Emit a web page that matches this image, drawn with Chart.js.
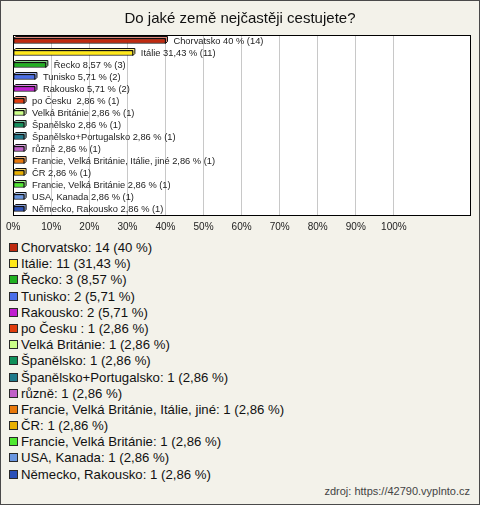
<!DOCTYPE html>
<html>
<head>
<meta charset="utf-8">
<script src="https://cdn.jsdelivr.net/npm/chart.js@4/dist/chart.umd.min.js"></script>
<style>
  body { margin: 0; }
  #wrap {
    position: relative;
    width: 480px;
    height: 505px;
    background: #f3f2ea;
    box-shadow: inset 0 0 0 1px #4a4a4a;
    font-family: "Liberation Sans", Arial, sans-serif;
    overflow: hidden;
  }
  #chart { position: absolute; left: 0; top: 0; }
  #legend { position: absolute; left: 9px; top: 240px; }
  .item { height: 16.2px; line-height: 16.2px; font-size: 13.2px; color: #111; white-space: nowrap; }
  .box {
    display: inline-block;
    width: 7px; height: 7px;
    border: 1px solid #2a2a2a;
    margin-right: 3px;
  }
  #source { position: absolute; right: 10px; top: 485px; font-size: 11px; color: #444; }
</style>
</head>
<body>
<div id="wrap">
  <canvas id="chart" width="480" height="240"></canvas>
  <div id="legend"></div>
  <div id="source">zdroj: https://42790.vyplnto.cz</div>
</div>
<script>
const TITLE = 'Do jaké země nejčastěji cestujete?';
const categories = [
  'Chorvatsko', 'Itálie', 'Řecko', 'Tunisko', 'Rakousko', 'po Česku ',
  'Velká Británie', 'Španělsko', 'Španělsko+Portugalsko', 'různě',
  'Francie, Velká Británie, Itálie, jiné', 'ČR', 'Francie, Velká Británie',
  'USA, Kanada', 'Německo, Rakousko'
];
const counts = [14, 11, 3, 2, 2, 1, 1, 1, 1, 1, 1, 1, 1, 1, 1];
const percents = [40, 31.43, 8.57, 5.71, 5.71, 2.86, 2.86, 2.86, 2.86, 2.86, 2.86, 2.86, 2.86, 2.86, 2.86];
const colors = [
  '#bf2a10', '#ffe81a', '#20b020', '#4a6ee8', '#c01ed0', '#e03c0c',
  '#ccff88', '#10905a', '#1f7a8c', '#c060c8', '#e8780a', '#e8b000',
  '#50e830', '#6a96e0', '#2a50b8'
];
const xTicks = [0, 10, 20, 30, 40, 50, 60, 70, 80, 90, 100];

function fmt(v) {
  return String(v).replace('.', ',');
}

function lighten(hex, amt) {
  const n = parseInt(hex.slice(1), 16);
  let r = (n >> 16) & 255, g = (n >> 8) & 255, b = n & 255;
  r = Math.round(r + (255 - r) * amt);
  g = Math.round(g + (255 - g) * amt);
  b = Math.round(b + (255 - b) * amt);
  return `rgb(${r},${g},${b})`;
}

// white plot background + black frame
const plotFrame = {
  id: 'plotFrame',
  beforeDraw(chart) {
    const { ctx, chartArea: a } = chart;
    ctx.save();
    ctx.fillStyle = '#ffffff';
    ctx.fillRect(a.left, a.top, a.right - a.left, a.bottom - a.top);
    ctx.restore();
  },
  afterDraw(chart) {
    const { ctx, chartArea: a } = chart;
    ctx.save();
    ctx.strokeStyle = '#000';
    ctx.lineWidth = 1;
    ctx.strokeRect(Math.round(a.left) + 0.5, Math.round(a.top) + 0.5, Math.round(a.right - a.left), Math.round(a.bottom - a.top));
    ctx.restore();
  }
};

// fake 3D depth behind each bar, and the value labels after
const barExtras = {
  id: 'barExtras',
  beforeDatasetsDraw(chart) {
    const { ctx } = chart;
    const meta = chart.getDatasetMeta(0);
    ctx.save();
    meta.data.forEach((bar, i) => {
      const h = bar.height;
      const x0 = bar.base, x1 = bar.x, y0 = bar.y - h / 2;
      ctx.fillStyle = lighten(colors[i], 0.45);
      ctx.strokeStyle = '#111';
      ctx.lineWidth = 1;
      ctx.beginPath();
      ctx.moveTo(x0, y0);
      ctx.lineTo(x0 + 2, y0 - 2);
      ctx.lineTo(x1 + 2, y0 - 2);
      ctx.lineTo(x1 + 2, y0 + h - 2);
      ctx.lineTo(x1, y0 + h);
      ctx.lineTo(x1, y0);
      ctx.closePath();
      ctx.fill();
      ctx.stroke();
    });
    ctx.restore();
  },
  afterDatasetsDraw(chart) {
    const { ctx } = chart;
    const meta = chart.getDatasetMeta(0);
    ctx.save();
    ctx.font = '9.3px "Liberation Sans", Arial, sans-serif';
    ctx.fillStyle = '#222';
    ctx.textBaseline = 'middle';
    meta.data.forEach((bar, i) => {
      const txt = `${categories[i]} ${fmt(percents[i])} % (${counts[i]})`;
      ctx.fillText(txt, bar.x + 8, bar.y);
    });
    ctx.restore();
  }
};

new Chart(document.getElementById('chart').getContext('2d'), {
  type: 'bar',
  data: {
    labels: categories,
    datasets: [{
      data: percents,
      backgroundColor: colors,
      borderColor: '#111',
      borderWidth: 1,
      borderSkipped: false,
      barThickness: 5
    }]
  },
  options: {
    indexAxis: 'y',
    responsive: false,
    animation: false,
    layout: { padding: { left: 10, right: 10, top: 0, bottom: 0 } },
    plugins: {
      legend: { display: false },
      tooltip: { enabled: false },
      title: {
        display: true,
        text: TITLE,
        color: '#111',
        font: { family: '"Liberation Sans", Arial, sans-serif', size: 15, weight: 'normal' },
        padding: { top: 10, bottom: 7 }
      }
    },
    scales: {
      x: {
        min: 0,
        max: 120,
        afterBuildTicks(scale) {
          scale.ticks = xTicks.map(v => ({ value: v }));
        },
        afterFit(scale) {
          scale.height = 25;
        },
        grid: { color: '#c8c8c8', drawTicks: false },
        border: { display: false },
        ticks: {
          padding: 6,
          color: '#222',
          font: { family: '"Liberation Sans", Arial, sans-serif', size: 10 },
          callback: v => v + '%'
        }
      },
      y: { display: false }
    }
  },
  plugins: [plotFrame, barExtras]
});

// legend below the chart
const legendDiv = document.getElementById('legend');
categories.forEach((name, i) => {
  const item = document.createElement('div');
  item.className = 'item';
  const box = document.createElement('span');
  box.className = 'box';
  box.style.background = colors[i];
  item.appendChild(box);
  item.appendChild(document.createTextNode(`${name}: ${counts[i]} (${fmt(percents[i])} %)`));
  legendDiv.appendChild(item);
});
</script>
</body>
</html>
